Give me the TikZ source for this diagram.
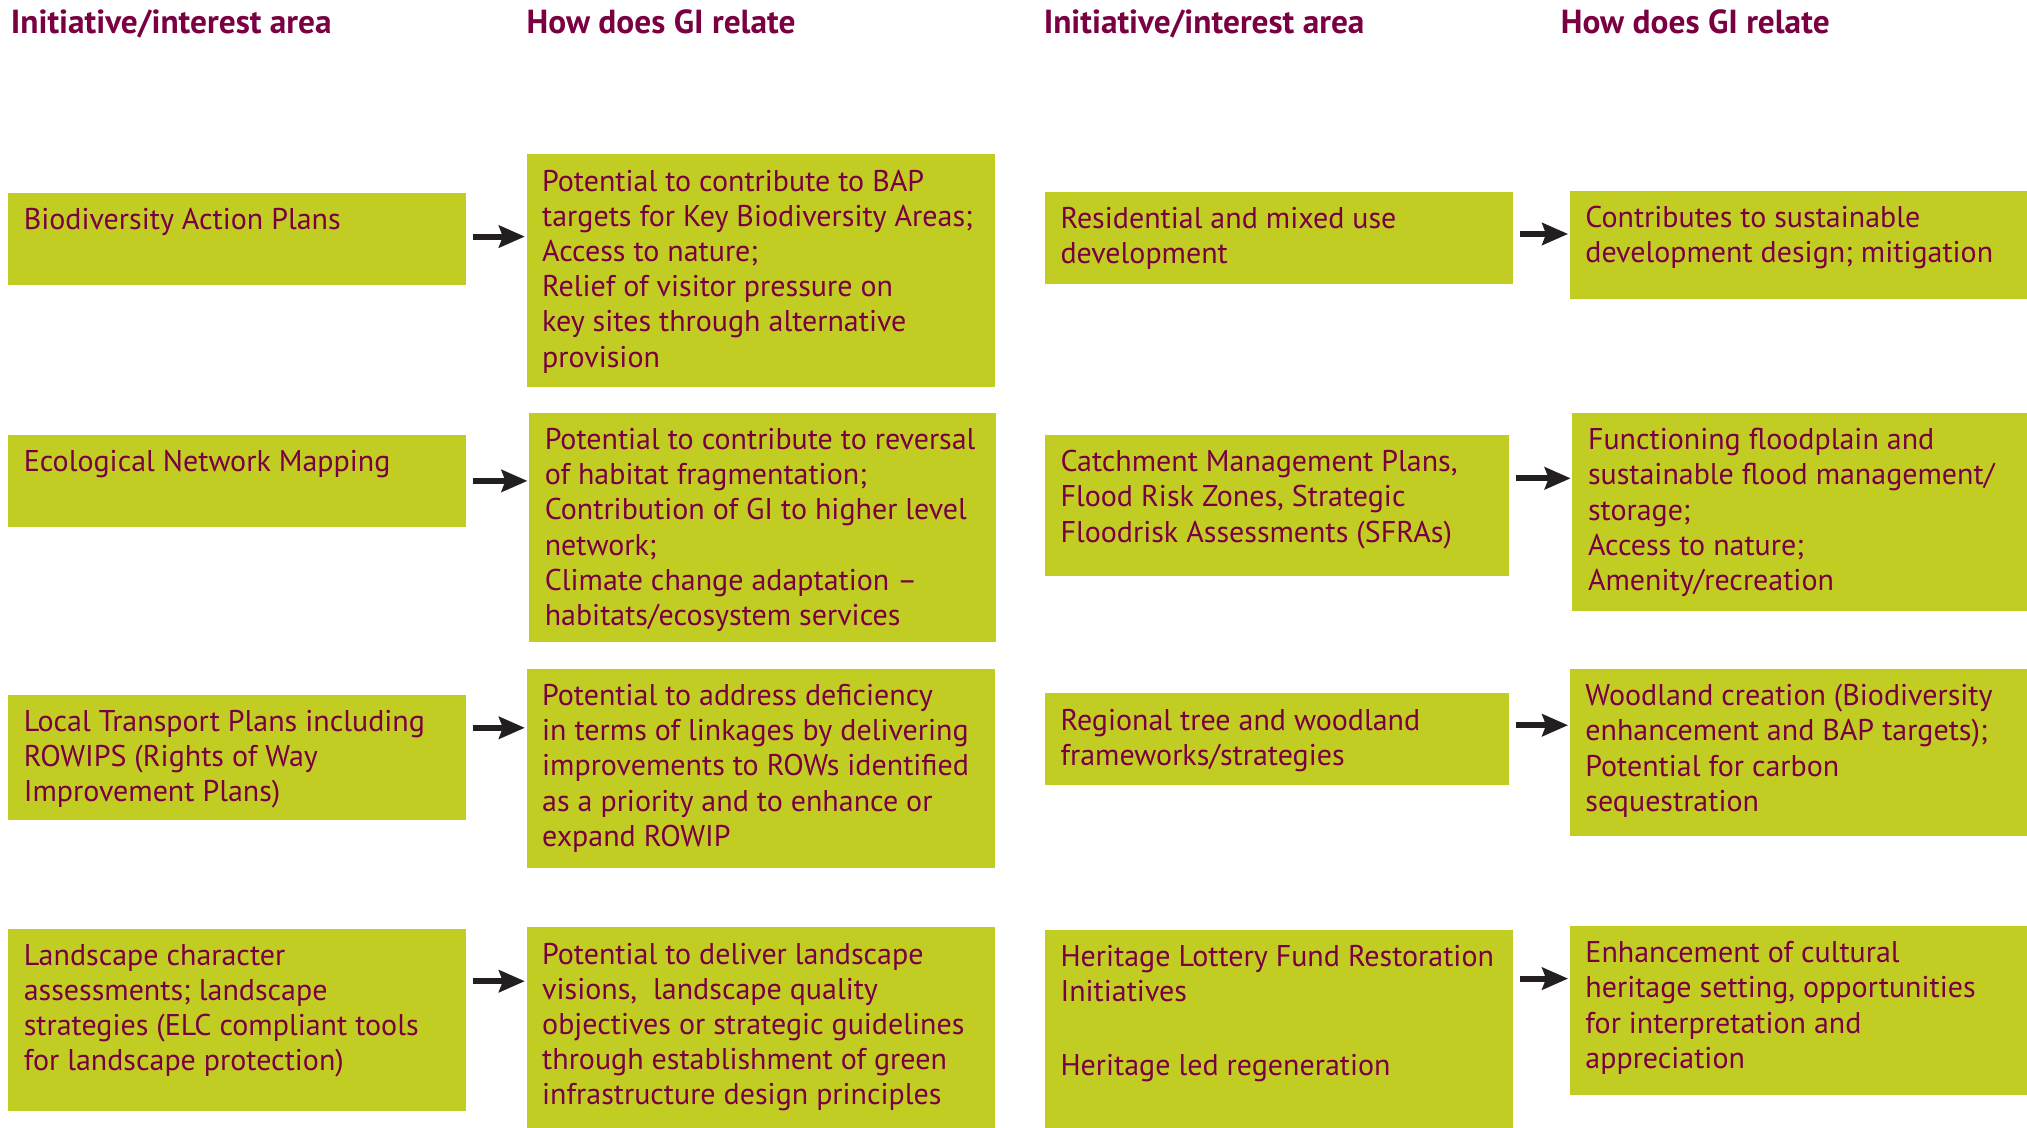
\documentclass[tikz,border=0pt]{standalone}
\usepackage{fontspec}
\setmainfont{PT Sans}
\usetikzlibrary{arrows.meta}
\definecolor{gigreen}{RGB}{194,205,35}
\definecolor{giplum}{RGB}{122,0,66}
\definecolor{giarrow}{RGB}{35,31,32}
\begin{document}
\begin{tikzpicture}[x=0.5pt,y=-0.5pt,
  box/.style 2 args={fill=gigreen, draw=none, anchor=north west, inner sep=0pt, minimum width=#1*0.5pt, minimum height=#2*0.5pt},
  txt/.style={anchor=north west, inner sep=0pt, align=left, text=giplum, font=\fontsize{11.6}{13.6}\selectfont},
  head/.style={anchor=base west, inner sep=0pt, text=giplum, font=\bfseries\fontsize{12.9}{15}\selectfont},
  arr/.style={draw=giarrow, line width=2.3pt, -{Stealth[length=10pt,width=8.5pt,inset=1.5pt]}, shorten <=2.5pt, shorten >=0.5pt}]
\useasboundingbox (0,0) rectangle (1568,872);
% headers
\node[head] (h1) at (8,26) {Initiative/interest area};
\node[head] (h2) at (407,26) {How does GI relate};
\node[head] (h3) at (807,26) {Initiative/interest area};
\node[head] (h4) at (1207,26) {How does GI relate};
% boxes
\node[box={354}{71}]  (b11) at (6,149) {};
\node[box={362}{180}] (b12) at (407,119) {};
\node[box={354}{71}]  (b21) at (6,336) {};
\node[box={361}{177}] (b22) at (409,319) {};
\node[box={354}{97}]  (b31) at (6,537) {};
\node[box={362}{154}] (b32) at (407,517) {};
\node[box={354}{141}] (b41) at (6,718) {};
\node[box={362}{155}] (b42) at (407,717) {};
\node[box={362}{71}]  (b13) at (808,148) {};
\node[box={354}{84}]  (b14) at (1214,147) {};
\node[box={359}{109}] (b23) at (808,336) {};
\node[box={352}{153}] (b24) at (1216,319) {};
\node[box={359}{71}]  (b33) at (808,536) {};
\node[box={354}{129}] (b34) at (1214,517) {};
\node[box={362}{153}] (b43) at (808,719) {};
\node[box={354}{131}] (b44) at (1214,716) {};
% texts
\node[txt] (t11) at ([shift={(12,12)}]b11.north west) {Biodiversity Action Plans};
\node[txt] (t12) at ([shift={(12,12)}]b12.north west) {Potential to contribute to BAP\\targets for Key Biodiversity Areas;\\Access to nature;\\Relief of visitor pressure on\\key sites through alternative\\provision};
\node[txt] (t21) at ([shift={(12,12)}]b21.north west) {Ecological Network Mapping};
\node[txt] (t22) at ([shift={(12,12)}]b22.north west) {Potential to contribute to reversal\\of habitat fragmentation;\\Contribution of GI to higher level\\network;\\Climate change adaptation –\\habitats/ecosystem services};
\node[txt] (t31) at ([shift={(12,12)}]b31.north west) {Local Transport Plans including\\ROWIPS (Rights of Way\\Improvement Plans)};
\node[txt] (t32) at ([shift={(12,12)}]b32.north west) {Potential to address deficiency\\in terms of linkages by delivering\\improvements to ROWs identified\\as a priority and to enhance or\\expand ROWIP};
\node[txt] (t41) at ([shift={(12,12)}]b41.north west) {Landscape character\\assessments; landscape\\strategies (ELC compliant tools\\for landscape protection)};
\node[txt] (t42) at ([shift={(12,12)}]b42.north west) {Potential to deliver landscape\\visions, \ landscape quality\\objectives or strategic guidelines\\through establishment of green\\infrastructure design principles};
\node[txt] (t13) at ([shift={(12,12)}]b13.north west) {Residential and mixed use\\development};
\node[txt] (t14) at ([shift={(12,12)}]b14.north west) {Contributes to sustainable\\development design; mitigation};
\node[txt] (t23) at ([shift={(12,12)}]b23.north west) {Catchment Management Plans,\\Flood Risk Zones, Strategic\\Floodrisk Assessments (SFRAs)};
\node[txt] (t24) at ([shift={(12,12)}]b24.north west) {Functioning floodplain and\\sustainable flood management/\\storage;\\Access to nature;\\Amenity/recreation};
\node[txt] (t33) at ([shift={(12,12)}]b33.north west) {Regional tree and woodland\\frameworks/strategies};
\node[txt] (t34) at ([shift={(12,12)}]b34.north west) {Woodland creation (Biodiversity\\enhancement and BAP targets);\\Potential for carbon\\sequestration};
\node[txt] (t43) at ([shift={(12,12)}]b43.north west) {Heritage Lottery Fund Restoration\\Initiatives\\[15pt]Heritage led regeneration};
\node[txt] (t44) at ([shift={(12,12)}]b44.north west) {Enhancement of cultural\\heritage setting, opportunities\\for interpretation and\\appreciation};
% arrow heights
\coordinate (a1) at (0,183);
\coordinate (a2) at (0,372);
\coordinate (a3) at (0,563);
\coordinate (a4) at (0,759);
\coordinate (c1) at (0,181);
\coordinate (c2) at (0,370);
\coordinate (c3) at (0,561);
\coordinate (c4) at (0,757);
% arrows
\draw[arr] (b11.east |- a1) -- (b12.west |- a1);
\draw[arr] (b21.east |- a2) -- (b22.west |- a2);
\draw[arr] (b31.east |- a3) -- (b32.west |- a3);
\draw[arr] (b41.east |- a4) -- (b42.west |- a4);
\draw[arr] (b13.east |- c1) -- (b14.west |- c1);
\draw[arr] (b23.east |- c2) -- (b24.west |- c2);
\draw[arr] (b33.east |- c3) -- (b34.west |- c3);
\draw[arr] (b43.east |- c4) -- (b44.west |- c4);
\end{tikzpicture}
\end{document}
